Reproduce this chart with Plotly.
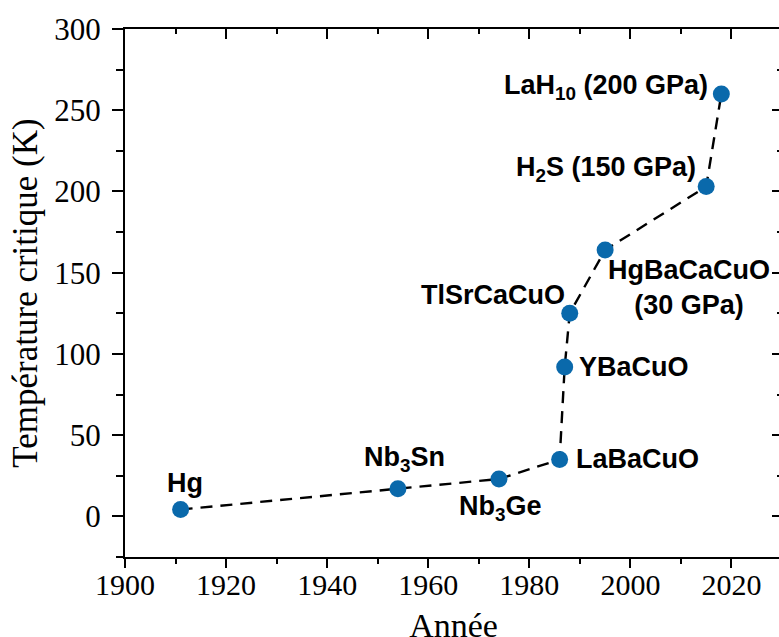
import plotly.graph_objects as go

# Supraconducteurs : année de découverte et température critique
years = [1911, 1954, 1974, 1986, 1987, 1988, 1995, 2015, 2018]
tc = [4.2, 17, 23, 35, 92, 125, 164, 203, 260]
labels = ["Hg", "Nb<sub>3</sub>Sn", "Nb<sub>3</sub>Ge", "LaBaCuO", "YBaCuO",
          "TlSrCaCuO", "HgBaCaCuO<br>(30 GPa)", "H<sub>2</sub>S (150 GPa)",
          "LaH<sub>10</sub> (200 GPa)"]

# placement of each label relative to its point (xanchor, xshift, yshift)
label_pos = [("center", 4, 27), ("center", 7, 30), ("center", 2, -29),
             ("left", 14, 1), ("left", 12, 0), ("right", -3, 18),
             ("center", 84, -38), ("right", -8, 18), ("right", -11, 7)]

blue = "#0a69ab"
serif = "Liberation Serif, Times New Roman, serif"
sans = "Liberation Sans, Arial, sans-serif"

fig = go.Figure()

fig.add_trace(go.Scatter(
    x=years, y=tc, mode="lines",
    line=dict(color="black", width=2.4, dash="12px,8px"),
    showlegend=False, hoverinfo="skip"))

fig.add_trace(go.Scatter(
    x=years, y=tc, mode="markers",
    marker=dict(color=blue, size=17, line=dict(width=0)),
    showlegend=False))

# empty traces so the extra tick-only axes get drawn
fig.add_trace(go.Scatter(x=[], y=[], xaxis="x2", yaxis="y2", showlegend=False))
fig.add_trace(go.Scatter(x=[], y=[], xaxis="x3", yaxis="y", showlegend=False))

for x, y, t, (anchor, dx, dy) in zip(years, tc, labels, label_pos):
    fig.add_annotation(x=x, y=y, text="<b>" + t.replace("<br>", "</b><br><b>") + "</b>",
                       showarrow=False,
                       xanchor=anchor, yanchor="middle",
                       xshift=dx, yshift=dy,
                       font=dict(family=sans, size=27, color="black"),
                       align="center")

xr = [1900, 2030]
yr = [-25, 300]

# the figure is slightly larger than the window: like the original, the
# right axis and the bottom of the x title fall just outside
fig.update_layout(
    width=782, height=644,
    margin=dict(l=125, r=0, t=29, b=87),
    plot_bgcolor="white", paper_bgcolor="white",
    font=dict(family=serif, size=30, color="black"),
    xaxis=dict(
        range=xr, dtick=20, tick0=1900, showgrid=False, zeroline=False,
        automargin=False,
        showline=True, linecolor="black", linewidth=2,
        ticks="", tickfont=dict(family=serif, size=30),
        title=dict(text="Année", font=dict(family=serif, size=34), standoff=20),
    ),
    xaxis3=dict(
        range=xr, overlaying="x", side="bottom", anchor="y", dtick=20, tick0=1900,
        automargin=False, showgrid=False, zeroline=False, showticklabels=False,
        showline=False,
        ticks="outside", ticklen=10, tickwidth=2, tickcolor="black",
        minor=dict(dtick=10, ticks="outside", ticklen=6, tickwidth=2, tickcolor="black"),
    ),
    yaxis=dict(
        range=yr, dtick=50, tick0=0, showgrid=False, zeroline=False,
        automargin=False,
        showline=True, linecolor="black", linewidth=2,
        ticks="outside", ticklen=11, tickwidth=2, tickcolor="black",
        minor=dict(dtick=25, ticks="outside", ticklen=7, tickwidth=2, tickcolor="black"),
        tickfont=dict(family=serif, size=31), ticklabelstandoff=5,
        title=dict(text="Température critique (K)", font=dict(family=serif, size=35), standoff=6),
    ),
    xaxis2=dict(
        range=xr, overlaying="x", side="top", anchor="y2", dtick=20, tick0=1900,
        automargin=False,
        showgrid=False, zeroline=False, showticklabels=False,
        showline=True, linecolor="black", linewidth=2,
        ticks="inside", ticklen=10, tickwidth=2, tickcolor="black",
        minor=dict(dtick=10, ticks="inside", ticklen=5, tickwidth=2, tickcolor="black"),
    ),
    yaxis2=dict(
        range=yr, overlaying="y", side="right", anchor="x2", dtick=50, tick0=0,
        automargin=False,
        showgrid=False, zeroline=False, showticklabels=False,
        showline=True, linecolor="black", linewidth=2,
        ticks="inside", ticklen=10, tickwidth=2, tickcolor="black",
        minor=dict(dtick=25, ticks="inside", ticklen=5, tickwidth=2, tickcolor="black"),
    ),
)

# no page margin / scrollbars, the figure sits at the top-left corner
fig.write_html("out.html", config={"displayModeBar": False}, post_script=(
    "document.body.style.margin='0px';"
    "document.body.style.overflow='hidden';"
    "document.documentElement.style.overflow='hidden';"))
